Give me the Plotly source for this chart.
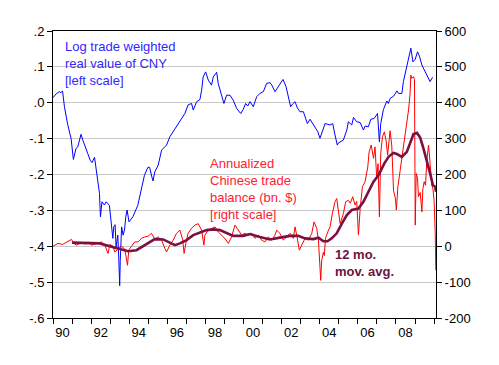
import plotly.graph_objects as go

# ---- data ----
cny_x = [1990.00, 1990.17, 1990.33, 1990.42, 1990.50, 1990.60, 1990.77, 1990.95, 1991.07, 1991.14,
         1991.21, 1991.30, 1991.47, 1991.57, 1991.65, 1991.82, 1991.95, 1992.05, 1992.18, 1992.30,
         1992.44, 1992.49, 1992.57, 1992.70, 1992.79, 1992.96, 1993.05, 1993.14, 1993.19, 1993.26,
         1993.31, 1993.40, 1993.45, 1993.50, 1993.53, 1993.60, 1993.68, 1993.75, 1993.82, 1993.89,
         1993.99, 1994.19, 1994.45, 1994.62, 1994.80, 1994.98, 1995.07, 1995.19, 1995.25, 1995.34,
         1995.52, 1995.70, 1995.96, 1996.13, 1996.40, 1996.66, 1996.92, 1997.09, 1997.27, 1997.36,
         1997.54, 1997.71, 1997.80, 1997.88, 1998.01, 1998.15, 1998.32, 1998.41, 1998.59, 1998.67,
         1998.85, 1998.97, 1999.11, 1999.29, 1999.46, 1999.64, 1999.85, 1999.98, 2000.11, 2000.22,
         2000.34, 2000.51, 2000.69, 2000.86, 2001.04, 2001.21, 2001.39, 2001.48, 2001.65, 2001.82,
         2002.07, 2002.23, 2002.47, 2002.60, 2002.70, 2002.82, 2002.96, 2003.14, 2003.35, 2003.49,
         2003.75, 2003.90, 2004.01, 2004.28, 2004.54, 2004.68, 2004.80, 2004.92, 2004.98, 2005.24,
         2005.42, 2005.50, 2005.68, 2005.77, 2005.94, 2006.12, 2006.29, 2006.38, 2006.55, 2006.68,
         2006.85, 2007.03, 2007.13, 2007.20, 2007.34, 2007.52, 2007.60, 2007.69, 2007.87, 2008.05,
         2008.13, 2008.31, 2008.39, 2008.57, 2008.66, 2008.78, 2008.89, 2009.01, 2009.13, 2009.23,
         2009.36, 2009.53, 2009.71, 2009.79, 2009.92]
cny_y = [0.014, 0.025, 0.031, 0.028, 0.033, -0.011, -0.060, -0.100, -0.158, -0.140,
         -0.127, -0.123, -0.088, -0.105, -0.118, -0.141, -0.160, -0.167, -0.152, -0.197,
         -0.253, -0.318, -0.276, -0.285, -0.276, -0.286, -0.337, -0.378, -0.346, -0.340,
         -0.402, -0.369, -0.430, -0.510, -0.440, -0.346, -0.369, -0.355, -0.318, -0.299,
         -0.332, -0.318, -0.286, -0.248, -0.202, -0.180, -0.180, -0.207, -0.218, -0.193,
         -0.174, -0.132, -0.118, -0.095, -0.072, -0.053, -0.030, -0.006, -0.002, -0.020,
         0.003, 0.009, 0.035, 0.072, 0.086, 0.063, 0.049, 0.072, 0.085, 0.054,
         0.017, -0.002, 0.021, 0.021, 0.007, -0.016, -0.030, -0.019, -0.002, -0.009,
         0.003, -0.011, 0.017, 0.026, 0.031, 0.054, 0.056, 0.049, 0.031, 0.045,
         0.065, 0.045, -0.011, -0.002, 0.003, -0.014, -0.025, -0.025, -0.058, -0.046,
         -0.070, -0.081, -0.099, -0.058, -0.062, -0.058, -0.090, -0.118, -0.112, -0.104,
         -0.076, -0.053, -0.062, -0.041, -0.053, -0.055, -0.076, -0.065, -0.067, -0.046,
         -0.044, -0.030, -0.109, -0.058, -0.019, 0.005, -0.002, 0.012, 0.018, 0.033,
         0.026, 0.026, 0.059, 0.100, 0.121, 0.152, 0.114, 0.121, 0.142, 0.130,
         0.105, 0.086, 0.068, 0.059, 0.071]

tb_x = [1990.00, 1990.26, 1990.50, 1990.70, 1990.97, 1991.10, 1991.23, 1991.49, 1991.70, 1991.84,
        1992.02, 1992.28, 1992.54, 1992.72, 1992.89, 1992.98, 1993.15, 1993.24, 1993.42, 1993.59,
        1993.77, 1993.91, 1993.98, 1994.12, 1994.29, 1994.47, 1994.65, 1994.82, 1994.99, 1995.17,
        1995.34, 1995.52, 1995.70, 1995.87, 1995.96, 1996.13, 1996.31, 1996.48, 1996.66, 1996.80,
        1996.88, 1996.97, 1997.09, 1997.27, 1997.45, 1997.62, 1997.80, 1997.92, 1997.97, 1998.15,
        1998.32, 1998.50, 1998.67, 1998.85, 1999.02, 1999.20, 1999.37, 1999.55, 1999.72, 1999.90,
        2000.07, 2000.25, 2000.42, 2000.60, 2000.77, 2000.95, 2001.12, 2001.30, 2001.48, 2001.65,
        2001.74, 2001.91, 2002.09, 2002.26, 2002.44, 2002.61, 2002.70, 2002.79, 2002.93, 2003.05,
        2003.23, 2003.40, 2003.58, 2003.70, 2003.84, 2003.93, 2004.01, 2004.05, 2004.10, 2004.19,
        2004.24, 2004.30, 2004.42, 2004.54, 2004.66, 2004.80, 2004.89, 2004.98, 2005.07, 2005.24,
        2005.36, 2005.50, 2005.60, 2005.73, 2005.85, 2005.94, 2006.03, 2006.12, 2006.24, 2006.38,
        2006.52, 2006.59, 2006.70, 2006.82, 2006.90, 2006.99, 2007.06, 2007.13, 2007.20, 2007.29,
        2007.39, 2007.49, 2007.56, 2007.69, 2007.78, 2007.87, 2007.97, 2008.02, 2008.10, 2008.22,
        2008.39, 2008.48, 2008.57, 2008.66, 2008.74, 2008.78, 2008.83, 2008.92, 2008.97, 2009.01,
        2009.06, 2009.13, 2009.18, 2009.27, 2009.36, 2009.41, 2009.48, 2009.55, 2009.62, 2009.71,
        2009.79, 2009.88, 2009.94, 2010.00, 2010.06, 2010.09]
tb_y = [0, 8, 5, 12, 19, 8, 3, 10, 6, 12,
        3, 8, 12, 3, -20, 5, 0, -16, -8, 0,
        -8, -53, -10, 0, 12, 12, 22, 26, 28, 36,
        20, 26, 17, -6, -16, 3, 17, 36, 45, 20,
        -20, 8, 36, 50, 59, 63, 45, 3, 31, 45,
        50, 54, 40, 31, 22, 8, 26, 59, 45, 31,
        36, 31, 36, 22, 31, 17, 12, 26, 17, 31,
        45, 36, 17, 26, 36, 22, 54, 31, -11, 3,
        22, 17, 36, 68, 50, 17, -48, -95, -40, -17,
        -26, 22, 40, 54, 91, 124, 133, 101, 63, 91,
        124, 128, 120, 138, 115, 125, 31, 105, 166, 180,
        221, 263, 282, 245, 277, 189, 230, 82, 259, 305,
        319, 291, 254, 322, 280, 156, 133, 101, 166, 212,
        277, 310, 347, 380, 426, 477, 468, 473, 465, 59,
        203, 190, 138, 150, 96, 160, 180, 170, 240, 282,
        231, 170, 160, 128, 36, -67]

ma_x = [1991.00, 1991.50, 1992.00, 1992.45, 1992.98, 1993.45, 1993.94, 1994.38, 1994.73, 1995.08,
        1995.34, 1995.78, 1996.13, 1996.40, 1996.66, 1997.01, 1997.36, 1997.71, 1998.06, 1998.41,
        1998.76, 1999.11, 1999.46, 1999.98, 2000.34, 2000.86, 2001.39, 2001.91, 2002.44, 2002.87,
        2003.23, 2003.66, 2003.93, 2004.19, 2004.40, 2004.63, 2004.89, 2005.16, 2005.42, 2005.68,
        2006.03, 2006.29, 2006.55, 2006.82, 2007.08, 2007.39, 2007.62, 2007.87, 2008.05, 2008.31,
        2008.57, 2008.74, 2008.92, 2009.10, 2009.27, 2009.44, 2009.62, 2009.79, 2009.94, 2010.06,
        2010.10]
ma_y = [10, 10, 9, 8, 0, -6, -14, -11, 0, 12,
        20, 19, 10, 3, 8, 17, 31, 38, 45, 47,
        45, 37, 29, 29, 34, 26, 19, 24, 29, 29,
        22, 20, 24, 14, 14, 22, 36, 63, 87, 101,
        105, 124, 152, 180, 198, 231, 250, 260, 257, 249,
        263, 287, 313, 316, 303, 273, 240, 203, 170, 166,
        152]

left_ticks = [0.2, 0.1, 0.0, -0.1, -0.2, -0.3, -0.4, -0.5, -0.6]
left_text = [".2", ".1", ".0", "-.1", "-.2", "-.3", "-.4", "-.5", "-.6"]
right_ticks = [600, 500, 400, 300, 200, 100, 0, -100, -200]
right_text = ["600", "500", "400", "300", "200", "100", "0", "-100", "-200"]
year_label_pos = [1990.5, 1992.5, 1994.5, 1996.5, 1998.5, 2000.5, 2002.5, 2004.5, 2006.5, 2008.5]
year_labels = ["90", "92", "94", "96", "98", "00", "02", "04", "06", "08"]
year_ticks = list(range(1990, 2011))

FONT = "Liberation Sans, Arial, sans-serif"

fig = go.Figure()
fig.add_trace(go.Scatter(x=cny_x, y=cny_y, mode="lines", yaxis="y",
                         line=dict(color="#0000ff", width=1), showlegend=False))
fig.add_trace(go.Scatter(x=tb_x, y=tb_y, mode="lines", yaxis="y2",
                         line=dict(color="#ff0000", width=1), showlegend=False))
fig.add_trace(go.Scatter(x=ma_x, y=ma_y, mode="lines", yaxis="y2",
                         line=dict(color="#7d1040", width=2.6), showlegend=False))

fig.update_layout(
    width=499, height=365,
    margin=dict(l=53, r=63, t=31, b=47, pad=0),
    paper_bgcolor="white", plot_bgcolor="white",
    font=dict(family=FONT, size=13, color="black"),
    xaxis=dict(range=[1990, 2010.1], tickmode="array", tickvals=year_label_pos,
               ticktext=year_labels, ticks="", showline=True, linecolor="black",
               linewidth=1, mirror=True, showgrid=False, zeroline=False,
               ticklabelstandoff=2,
               minor=dict(tickmode="array", tickvals=year_ticks, ticks="outside",
                          ticklen=5, tickcolor="black", tickwidth=1, showgrid=False)),
    yaxis=dict(range=[-0.6, 0.2], tickmode="array", tickvals=left_ticks, ticktext=left_text,
               ticks="outside", ticklen=5, tickcolor="black", showline=True,
               linecolor="black", linewidth=1, showgrid=True, gridcolor="#c8c8c8",
               gridwidth=1, zeroline=False),
    yaxis2=dict(range=[-200, 600], overlaying="y", side="right", tickmode="array",
                tickvals=right_ticks, ticktext=right_text, ticks="outside", ticklen=5,
                tickcolor="black", showline=True, linecolor="black", linewidth=1,
                showgrid=False, zeroline=False),
    annotations=[
        dict(xref="paper", yref="paper", x=0.026, y=0.979, xanchor="left", yanchor="top",
             align="left", showarrow=False,
             text="Log trade weighted<br>real value of CNY<br>[left scale]",
             font=dict(family=FONT, size=13, color="#3326ff")),
        dict(xref="paper", yref="paper", x=0.405, y=0.571, xanchor="left", yanchor="top",
             align="left", showarrow=False,
             text="Annualized<br>Chinese trade<br>balance (bn. $)<br>[right scale]",
             font=dict(family=FONT, size=13, color="#ff2030")),
        dict(xref="paper", yref="paper", x=0.732, y=0.254, xanchor="left", yanchor="top",
             align="left", showarrow=False,
             text="<b>12 mo.<br>mov. avg.</b>",
             font=dict(family=FONT, size=13, color="#6a1440")),
    ],
)

fig.write_html("out.html", config={"displayModeBar": False, "staticPlot": True})

# remove the browser's default page margin so the figure sits at the window origin
with open("out.html", "r", encoding="utf-8") as f:
    html = f.read()
html = html.replace("<head>", "<head><style>html,body{margin:0;padding:0;overflow:hidden;}</style>", 1)
with open("out.html", "w", encoding="utf-8") as f:
    f.write(html)
